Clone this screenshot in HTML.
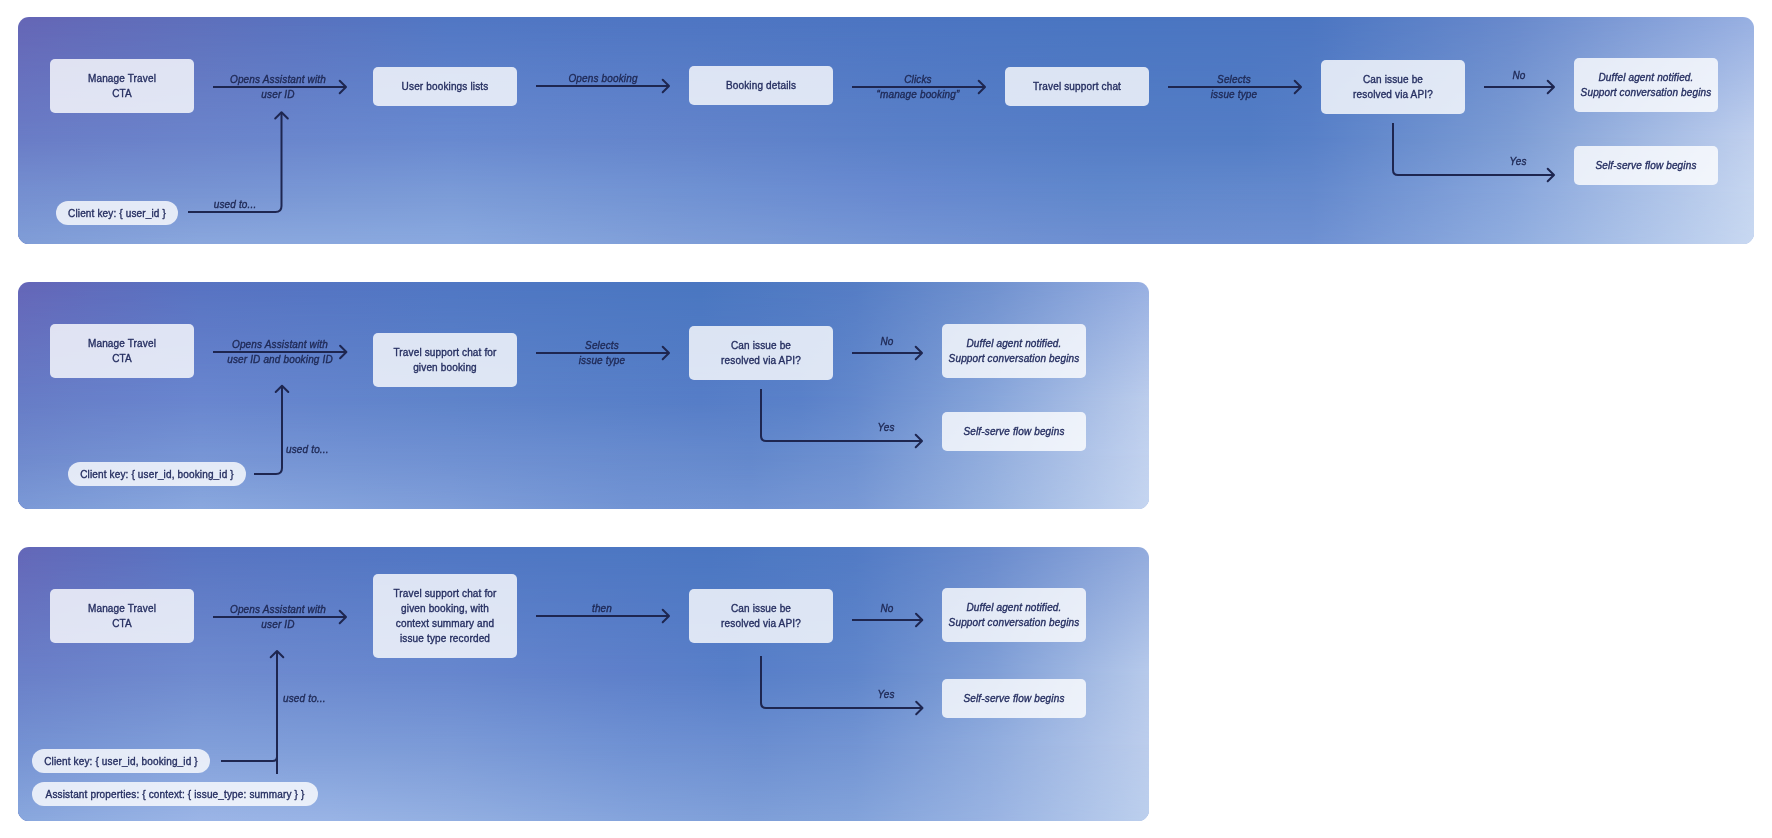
<!DOCTYPE html>
<html><head><meta charset="utf-8"><style>
*{margin:0;padding:0;box-sizing:border-box}
html,body{width:1772px;height:838px;background:#fff;overflow:hidden}
body{position:relative;-webkit-text-stroke:0.35px currentColor;letter-spacing:0.15px;font-family:"Liberation Sans",sans-serif;font-size:10.0px;line-height:15px}
.panel{position:absolute;will-change:transform;border-radius:11px;overflow:hidden}
.gl{position:absolute;left:0;top:0;width:100%;height:100%}
.box{position:absolute;will-change:transform;background:rgba(255,255,255,0.8);border-radius:5px;display:flex;align-items:center;justify-content:center;text-align:center;color:#262f61;white-space:nowrap}
.box.it{font-style:italic}
.box.pill{border-radius:12px}
.lbl{position:absolute;will-change:transform;text-align:center;color:#1f2955;font-style:italic;white-space:nowrap}
.lbl.l{text-align:left}
svg{position:absolute;left:0;top:0}
svg path{fill:none;stroke:#1e2650;stroke-width:2;stroke-linejoin:round;stroke-linecap:round}
svg path.b{stroke-linecap:butt}
</style></head><body>
<div class="panel" style="left:18px;top:17px;width:1736px;height:227px"><div class="gl" style="background:linear-gradient(to right,#6566b6 0.00%,#5e70bc 10.48%,#5177c4 24.88%,#4c75c2 50.81%,#4a76c2 62.33%,#4c76c2 74.42%,#6889cc 85.94%,#98b0e2 100.00%)"></div><div class="gl" style="background:linear-gradient(to right,#6a7cc6 0.00%,#6b84cb 10.48%,#6889d0 24.88%,#6384cb 38.71%,#5a80c8 50.81%,#557dc6 62.33%,#537dc5 70.97%,#5880c8 74.42%,#7c9cd4 85.94%,#c0d0ee 100.00%);-webkit-mask-image:linear-gradient(to bottom, transparent 0%, #000 53%);mask-image:linear-gradient(to bottom, transparent 0%, #000 53%)"></div><div class="gl" style="background:linear-gradient(to right,#758fd0 0.00%,#7b9bd7 24.88%,#7092d3 38.71%,#6889d0 50.81%,#6088cc 62.33%,#6489cd 74.42%,#88a6dc 85.94%,#c6d6f0 100.00%);-webkit-mask-image:linear-gradient(to bottom, transparent 53%, #000 77%);mask-image:linear-gradient(to bottom, transparent 53%, #000 77%)"></div><div class="gl" style="background:linear-gradient(to right,#809dd7 0.00%,#8aa7dd 10.48%,#8aa9df 25.46%,#7f9ed8 37.56%,#7596d5 50.23%,#6e8fd1 62.90%,#6e90d2 74.42%,#90addf 85.94%,#c8d8f1 100.00%);-webkit-mask-image:linear-gradient(to bottom, transparent 77%, #000 100%);mask-image:linear-gradient(to bottom, transparent 77%, #000 100%)"></div></div><div class="box" style="left:50px;top:59px;width:144px;height:54px"><span>Manage Travel<br>CTA</span></div><div class="box" style="left:373px;top:67px;width:144px;height:39px"><span>User bookings lists</span></div><div class="box" style="left:689px;top:66px;width:144px;height:39px"><span>Booking details</span></div><div class="box" style="left:1005px;top:67px;width:144px;height:39px"><span>Travel support chat</span></div><div class="box" style="left:1321px;top:60px;width:144px;height:54px"><span>Can issue be<br>resolved via API?</span></div><div class="box it" style="left:1574px;top:58px;width:144px;height:54px"><span>Duffel agent notified.<br>Support conversation begins</span></div><div class="box it" style="left:1574px;top:146px;width:144px;height:39px"><span>Self-serve flow begins</span></div><div class="box pill" style="left:56px;top:201px;width:122px;height:24px"><span>Client key: { user_id }</span></div><div class="lbl" style="left:168.00px;top:71.83px;width:220px">Opens Assistant with<br>user ID</div><div class="lbl" style="left:492.50px;top:70.63px;width:220px">Opens booking</div><div class="lbl" style="left:808.00px;top:72.03px;width:220px">Clicks<br>“manage booking”</div><div class="lbl" style="left:1124.00px;top:72.03px;width:220px">Selects<br>issue type</div><div class="lbl" style="left:1408.70px;top:68.23px;width:220px">No</div><div class="lbl" style="left:1408.00px;top:153.84px;width:220px">Yes</div><div class="lbl" style="left:125.40px;top:196.84px;width:220px">used to...</div><div class="panel" style="left:18px;top:282px;width:1131px;height:227px"><div class="gl" style="background:linear-gradient(to right,#6566b8 0.00%,#5873c2 16.09%,#5077c4 38.20%,#4a77c1 60.30%,#557dc5 74.01%,#7091cf 85.94%,#98b0e2 100.00%)"></div><div class="gl" style="background:linear-gradient(to right,#677cc6 0.00%,#6986cf 16.09%,#5f84ca 38.20%,#587fc8 54.11%,#567dc7 60.30%,#5a81c9 69.14%,#6388cc 74.01%,#87a5da 85.94%,#bccdec 100.00%);-webkit-mask-image:linear-gradient(to bottom, transparent 0%, #000 52%);mask-image:linear-gradient(to bottom, transparent 0%, #000 52%)"></div><div class="gl" style="background:linear-gradient(to right,#6f89cd 0.00%,#7795d5 16.09%,#6f90d2 38.20%,#6388cc 64.72%,#6e91d1 74.01%,#93aede 85.94%,#c2d2ef 100.00%);-webkit-mask-image:linear-gradient(to bottom, transparent 52%, #000 76%);mask-image:linear-gradient(to bottom, transparent 52%, #000 76%)"></div><div class="gl" style="background:linear-gradient(to right,#7b99d6 0.00%,#8aa8de 16.09%,#7f9ed9 38.20%,#7294d4 54.11%,#7193d3 64.72%,#7999d5 74.01%,#98b3e0 85.94%,#c5d5f0 100.00%);-webkit-mask-image:linear-gradient(to bottom, transparent 76%, #000 100%);mask-image:linear-gradient(to bottom, transparent 76%, #000 100%)"></div></div><div class="box" style="left:50px;top:324px;width:144px;height:54px"><span>Manage Travel<br>CTA</span></div><div class="box" style="left:373px;top:333px;width:144px;height:54px"><span>Travel support chat for<br>given booking</span></div><div class="box" style="left:689px;top:326px;width:144px;height:54px"><span>Can issue be<br>resolved via API?</span></div><div class="box it" style="left:942px;top:324px;width:144px;height:54px"><span>Duffel agent notified.<br>Support conversation begins</span></div><div class="box it" style="left:942px;top:412px;width:144px;height:39px"><span>Self-serve flow begins</span></div><div class="box pill" style="left:68px;top:462px;width:178px;height:24px"><span>Client key: { user_id, booking_id }</span></div><div class="lbl" style="left:169.50px;top:336.54px;width:220px">Opens Assistant with<br>user ID and booking ID</div><div class="lbl" style="left:491.50px;top:338.04px;width:220px">Selects<br>issue type</div><div class="lbl" style="left:776.70px;top:334.24px;width:220px">No</div><div class="lbl" style="left:776.00px;top:420.04px;width:220px">Yes</div><div class="lbl l" style="left:286.40px;top:441.64px;width:220px">used to...</div><div class="panel" style="left:18px;top:547px;width:1131px;height:274px"><div class="gl" style="background:linear-gradient(to right,#6467b8 0.00%,#5874c2 16.09%,#5077c4 38.20%,#4b77c2 61.18%,#527bc5 74.01%,#6a8bcd 85.94%,#92abdd 100.00%)"></div><div class="gl" style="background:linear-gradient(to right,#6a7fc8 0.00%,#6f8bcf 16.09%,#6787ce 38.20%,#5e80ca 54.11%,#577ec8 63.40%,#6086cb 74.01%,#7f9ed6 85.94%,#b7caeb 100.00%);-webkit-mask-image:linear-gradient(to bottom, transparent 0%, #000 46%);mask-image:linear-gradient(to bottom, transparent 0%, #000 46%)"></div><div class="gl" style="background:linear-gradient(to right,#7491d2 0.00%,#809ed9 16.09%,#7b9ad7 38.20%,#6f91d3 54.11%,#6b8ed0 65.61%,#7294d3 74.01%,#90acde 85.94%,#bccdec 100.00%);-webkit-mask-image:linear-gradient(to bottom, transparent 46%, #000 72%);mask-image:linear-gradient(to bottom, transparent 46%, #000 72%)"></div><div class="gl" style="background:linear-gradient(to right,#89a7dd 0.00%,#9bb5e6 16.09%,#99b4e5 27.59%,#93afe1 38.20%,#85a4dc 54.11%,#7f9fd8 64.72%,#83a3da 74.01%,#99b3e2 85.94%,#bccfed 100.00%);-webkit-mask-image:linear-gradient(to bottom, transparent 72%, #000 100%);mask-image:linear-gradient(to bottom, transparent 72%, #000 100%)"></div></div><div class="box" style="left:50px;top:589px;width:144px;height:54px"><span>Manage Travel<br>CTA</span></div><div class="box" style="left:373px;top:574px;width:144px;height:84px"><span>Travel support chat for<br>given booking, with<br>context summary and<br>issue type recorded</span></div><div class="box" style="left:689px;top:589px;width:144px;height:54px"><span>Can issue be<br>resolved via API?</span></div><div class="box it" style="left:942px;top:588px;width:144px;height:54px"><span>Duffel agent notified.<br>Support conversation begins</span></div><div class="box it" style="left:942px;top:679px;width:144px;height:39px"><span>Self-serve flow begins</span></div><div class="box pill" style="left:32px;top:749px;width:178px;height:24px"><span>Client key: { user_id, booking_id }</span></div><div class="box pill" style="left:32px;top:782px;width:286px;height:24px"><span>Assistant properties: { context: { issue_type: summary } }</span></div><div class="lbl" style="left:167.80px;top:601.63px;width:220px">Opens Assistant with<br>user ID</div><div class="lbl" style="left:492.00px;top:600.83px;width:220px">then</div><div class="lbl" style="left:777.00px;top:600.63px;width:220px">No</div><div class="lbl" style="left:776.00px;top:687.33px;width:220px">Yes</div><div class="lbl l" style="left:282.70px;top:690.74px;width:220px">used to...</div>
<svg width="1772" height="838" viewBox="0 0 1772 838"><path class="b" d="M213 87H345.5"/><path d="M339.7 80.7L346 87L339.7 93.3"/><path class="b" d="M536 86H668.5"/><path d="M662.7 79.7L669 86L662.7 92.3"/><path class="b" d="M852 87H984.5"/><path d="M978.7 80.7L985 87L978.7 93.3"/><path class="b" d="M1168 87H1300.5"/><path d="M1294.7 80.7L1301 87L1294.7 93.3"/><path class="b" d="M1484 87H1553.5"/><path d="M1547.7 80.7L1554 87L1547.7 93.3"/><path class="b" d="M1393 123V170Q1393 175 1398 175H1553.5"/><path d="M1547.7 168.7L1554 175L1547.7 181.3"/><path class="b" d="M188 212H275.5Q281.5 212 281.5 206V112.7"/><path d="M275.2 118.5L281.5 112.2L287.8 118.5"/><path class="b" d="M213 352H345.9"/><path d="M340.09999999999997 345.7L346.4 352L340.09999999999997 358.3"/><path class="b" d="M536 353H668.5"/><path d="M662.7 346.7L669 353L662.7 359.3"/><path class="b" d="M852 353H921.5"/><path d="M915.7 346.7L922 353L915.7 359.3"/><path class="b" d="M761 389V436Q761 441 766 441H921.5"/><path d="M915.7 434.7L922 441L915.7 447.3"/><path class="b" d="M254 474H276Q282 474 282 468V386.2"/><path d="M275.7 392.0L282 385.7L288.3 392.0"/><path class="b" d="M213 617H345.5"/><path d="M339.7 610.7L346 617L339.7 623.3"/><path class="b" d="M536 616H668.5"/><path d="M662.7 609.7L669 616L662.7 622.3"/><path class="b" d="M852 620H921.8"/><path d="M916.0 613.7L922.3 620L916.0 626.3"/><path class="b" d="M761 656V703Q761 708 766 708H922.0"/><path d="M916.2 701.7L922.5 708L916.2 714.3"/><path class="b" d="M221 761H272.5Q277 761 277 756.5"/><path class="b" d="M277 774V651.5"/><path d="M270.7 657.3L277 651L283.3 657.3"/></svg>
</body></html>
